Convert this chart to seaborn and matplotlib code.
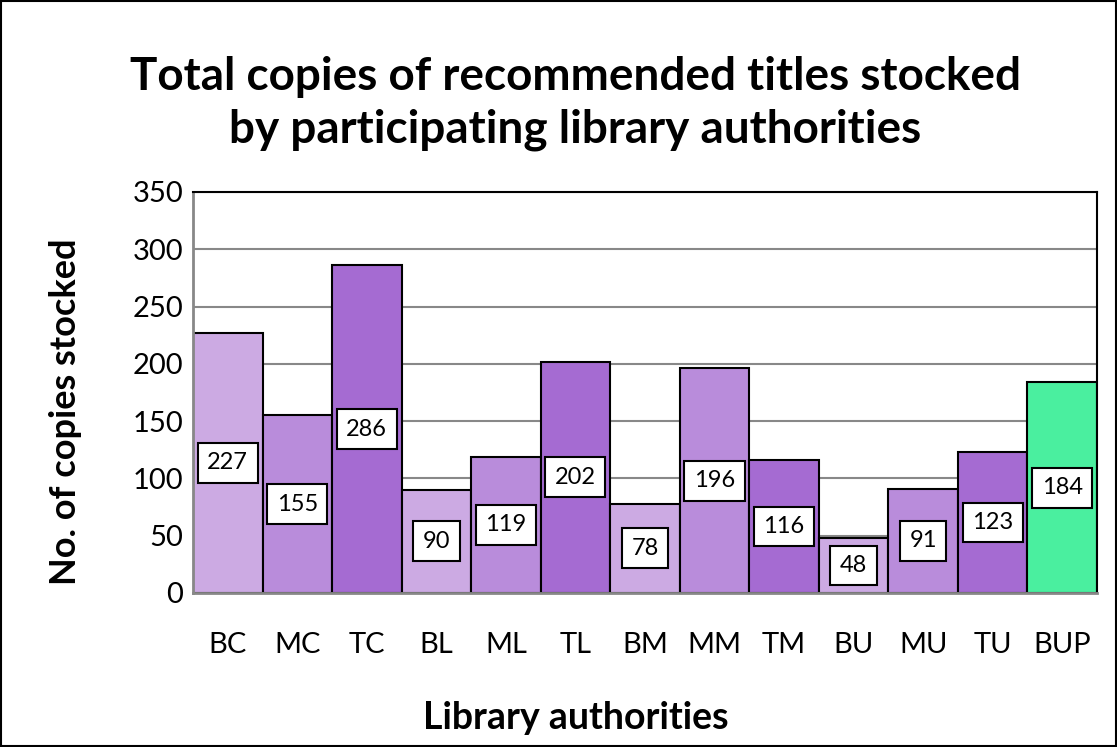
import numpy as np
import pandas as pd
import matplotlib.pyplot as plt
import seaborn as sb

authorities = ['BC', 'MC', 'TC', 'BL', 'ML', 'TL', 'BM', 'MM', 'TM', 'BU', 'MU', 'TU', 'BUP']
copies = [227, 155, 286, 90, 119, 202, 78, 196, 116, 48, 91, 123, 184]
bar_colors = ['#CCAAE3', '#B98CDB', '#A56BD2'] * 4 + ['#4AEF9F']

sb.set_style('white')
plt.rcParams['font.family'] = ['Lato', 'DejaVu Sans']
plt.rcParams['text.color'] = 'black'
plt.rcParams['axes.labelcolor'] = 'black'
plt.rcParams['xtick.color'] = 'black'
plt.rcParams['ytick.color'] = 'black'

data = pd.DataFrame({'authority': authorities, 'copies': copies})

fig = plt.figure(figsize=(11.17, 7.47), dpi=100)
ax = fig.add_axes([0.1728, 0.2062, 0.8092, 0.5368])

sb.barplot(data=data, x='authority', y='copies', hue='authority',
           palette=bar_colors, saturation=1, width=1.0, edgecolor='black',
           linewidth=1.5, legend=False, ax=ax)

for cont in ax.containers:
    ax.bar_label(cont, label_type='center', fontsize=17, color='black',
                 bbox=dict(boxstyle='square,pad=0.4', fc='white', ec='black', lw=1.5))

ax.set_ylim(0, 350)
ax.set_xlim(-0.5, len(authorities) - 0.5)
ax.set_yticks(np.arange(0, 351, 50))
ax.yaxis.grid(True, color='#888888', linewidth=1.5)
ax.set_axisbelow(True)
ax.tick_params(axis='y', labelsize=21, length=0, pad=7, labelcolor='black')
ax.tick_params(axis='x', which='major', labelsize=21, length=0, pad=28, labelcolor='black')
ax.set_xticks(np.arange(-0.5, len(authorities), 1), minor=True)
ax.tick_params(axis='x', which='minor', length=12, width=1.5, color='#888888')

for side in ['left', 'bottom']:
    ax.spines[side].set_color('#888888')
    ax.spines[side].set_linewidth(2)
for side in ['top', 'right']:
    ax.spines[side].set_color('black')
    ax.spines[side].set_linewidth(1.5)

ax.set_xlabel('Library authorities', fontsize=27, fontweight='bold')
ax.xaxis.set_label_coords(0.424, -0.27)
ax.set_ylabel('No. of copies stocked', fontsize=26, fontweight='bold')
ax.yaxis.set_label_coords(-0.123, 0.452)
fig.suptitle('Total copies of recommended titles stocked\nby participating library authorities',
             x=0.515, y=0.925, fontsize=33, fontweight='bold', linespacing=1.3)

fig.patches.append(plt.Rectangle((0.001, 0.001), 0.998, 0.998, transform=fig.transFigure,
                                 fill=False, edgecolor='black', linewidth=1.5))

fig.savefig('out.png', dpi=100)
